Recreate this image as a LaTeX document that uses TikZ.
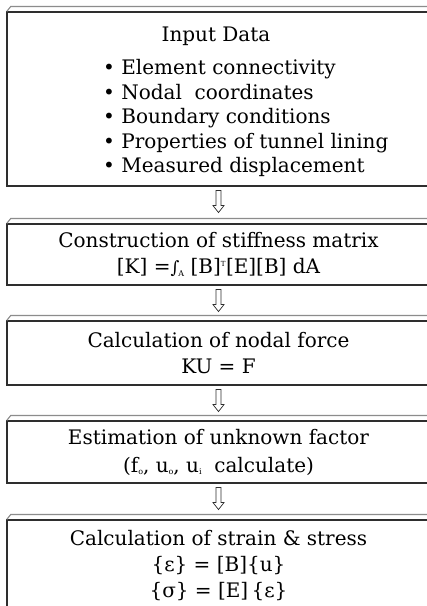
\documentclass[tikz,border=0pt]{standalone}
\usepackage{fontspec}
\setmainfont{DejaVu Serif}
\usetikzlibrary{calc}
\definecolor{boxcol}{HTML}{2E2E2E}
\definecolor{topcol}{HTML}{8C8C8C}
\newcommand\mainfs{\fontsize{20}{26}\selectfont}
\newcommand\subo{\raisebox{-2pt}{\fontsize{8}{8}\selectfont o}}
\newcommand\subi{\raisebox{-2pt}{\fontsize{8}{8}\selectfont i}}
\newcommand\integA{{\fontsize{17}{17}\selectfont ∫}\kern-1pt\raisebox{-3pt}{\fontsize{8}{8}\selectfont A}}
\newcommand\topface[1]{\draw[topline] ($(#1.north west)+(0.3,0)$) -- ++(4,-5) -- ($(#1.north east)+(0,-5)$);}
\newcommand\flowarrow[2]{\draw[arrowline] ($(#1.south)+(-2.5,4)$) -- ++(0,15) -- ++(-3,0) -- ++(5.5,7) -- ++(5.5,-7) -- ++(-3,0) -- ++(0,-15) -- cycle;}
\begin{document}
\begin{tikzpicture}[x=1pt,y=-1pt,
  box/.style={draw=boxcol, line width=1.1pt, minimum width=423pt, inner sep=0pt, align=center, font=\mainfs},
  txt/.style={inner sep=0pt, font=\mainfs},
  topline/.style={draw=topcol, line width=1.1pt},
  arrowline/.style={draw=boxcol, line width=0.7pt, fill=white, line join=miter}]
\useasboundingbox (0,0) rectangle (427,606);
\fill[white] (0,0) rectangle (427,606);
% boxes
\node[box, minimum height=174pt] (b1) at (218.5,99) {};
\node[txt] (t1) at (216,36) {Input Data};
\node[txt, anchor=west, align=left, font=\fontsize{20}{24.5}\selectfont] (l1) at (103,118)
  {\textbullet\ Element connectivity\\
   \textbullet\ Nodal\ \ coordinates\\
   \textbullet\ Boundary conditions\\
   \textbullet\ Properties of tunnel lining\\
   \textbullet\ Measured displacement};
\node[box, minimum height=61pt] (b2) at (218.5,254.5)
  {Construction of stiffness matrix\\\relax
   {[K]} =\integA\ {[B]}\textsuperscript{\fontsize{7}{7}\selectfont T}{[E][B]}\ dA};
\node[box, minimum height=64pt] (b3) at (218.5,353)
  {Calculation of nodal force\\ KU = F};
\node[box, minimum height=62pt] (b4) at (218.5,452)
  {Estimation of unknown factor\\[2pt] (f\subo, u\subo, u\subi\ \ calculate)};
\node[box, minimum height=92pt] (b5) at (218.5,566)
  {Calculation of strain \& stress\\ \{ε\} = {[B]}\{u\}\\ \{σ\} = {[E]}\,\{ε\}};
% top faces
\topface{b1}\topface{b2}\topface{b3}\topface{b4}\topface{b5}
% arrows
\flowarrow{b1}{b2}
\flowarrow{b2}{b3}
\flowarrow{b3}{b4}
\flowarrow{b4}{b5}
\end{tikzpicture}
\end{document}
